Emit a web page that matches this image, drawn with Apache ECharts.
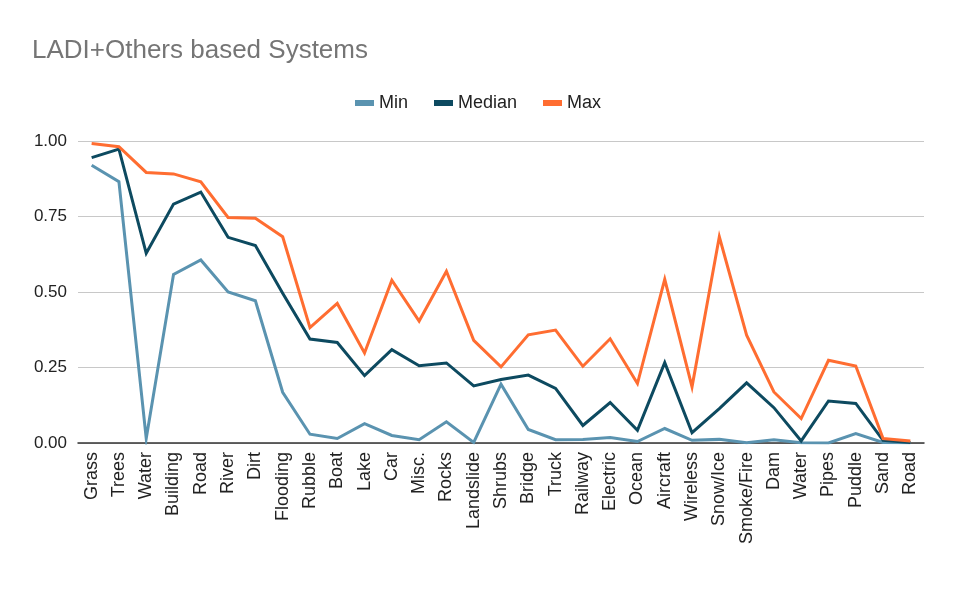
<!DOCTYPE html>
<html>
<head>
    <meta charset="utf-8" />
    <script src="https://cdn.jsdelivr.net/npm/echarts@6/dist/echarts.min.js"></script>
    <title>LADI+Others based Systems</title>
    <style>
        html, body { margin: 0; padding: 0; background: #fff; }
    </style>
</head>
<body>
    <div id="main" style="width: 956px;height:591px;"></div>

    <script type="text/javascript">

        var categories = ['Grass', 'Trees', 'Water', 'Building', 'Road', 'River', 'Dirt', 'Flooding', 'Rubble', 'Boat',
            'Lake', 'Car', 'Misc.', 'Rocks', 'Landslide', 'Shrubs', 'Bridge', 'Truck', 'Railway', 'Electric',
            'Ocean', 'Aircraft', 'Wireless', 'Snow/Ice', 'Smoke/Fire', 'Dam', 'Water', 'Pipes', 'Puddle', 'Sand', 'Road'];

        var minValues = [0.920, 0.865, 0.015, 0.558, 0.606, 0.500, 0.471, 0.168, 0.029, 0.015,
            0.064, 0.025, 0.011, 0.070, 0.002, 0.195, 0.045, 0.011, 0.012, 0.018,
            0.005, 0.048, 0.009, 0.012, 0.001, 0.011, 0.001, 0.000, 0.031, 0.002, 0.001];

        var medianValues = [0.945, 0.973, 0.628, 0.791, 0.831, 0.681, 0.654, 0.496, 0.344, 0.333,
            0.223, 0.309, 0.256, 0.265, 0.189, 0.210, 0.225, 0.181, 0.058, 0.134,
            0.042, 0.266, 0.034, 0.114, 0.199, 0.117, 0.007, 0.139, 0.131, 0.009, 0.002];

        var maxValues = [0.992, 0.981, 0.896, 0.891, 0.865, 0.747, 0.744, 0.683, 0.382, 0.462,
            0.298, 0.539, 0.404, 0.569, 0.340, 0.252, 0.358, 0.374, 0.254, 0.345,
            0.197, 0.542, 0.186, 0.683, 0.357, 0.169, 0.081, 0.274, 0.255, 0.015, 0.007];

        var yTicks = [0, 0.25, 0.5, 0.75, 1];

        var font = 'Arial, "Liberation Sans", sans-serif';

        var myChart = echarts.init(document.getElementById('main'));

        function lineSeries(name, data, color) {
            return {
                name: name,
                type: 'line',
                data: data,
                symbol: 'none',
                smooth: false,
                color: color,
                lineStyle: { width: 3, color: color, join: 'miter', miterLimit: 12 },
                emphasis: { disabled: true }
            };
        }

        myChart.setOption({
            animation: false,
            title: {
                text: 'LADI+Others based Systems',
                left: 27,
                top: 33,
                textStyle: {
                    fontFamily: font,
                    fontSize: 26,
                    fontWeight: 'normal',
                    color: '#757575'
                }
            },
            legend: {
                top: 89,
                left: 'center',
                itemWidth: 19,
                itemHeight: 6,
                itemGap: 26,
                icon: 'rect',
                textStyle: {
                    fontFamily: font,
                    fontSize: 18,
                    color: '#222'
                },
                data: ['Min', 'Median', 'Max']
            },
            grid: {
                left: 78,
                right: 32,
                top: 141,
                bottom: 148,
                containLabel: false
            },
            xAxis: {
                type: 'category',
                data: categories,
                boundaryGap: true,
                axisLine: { lineStyle: { color: '#333', width: 1.5 } },
                axisTick: { show: false },
                axisLabel: {
                    interval: 0,
                    rotate: 90,
                    margin: 9,
                    fontFamily: font,
                    fontSize: 18,
                    color: '#222'
                }
            },
            yAxis: {
                type: 'value',
                min: yTicks[0],
                max: yTicks[yTicks.length - 1],
                interval: 0.25,
                axisLine: { show: false },
                axisTick: { show: false },
                splitLine: { lineStyle: { color: '#c8c8c8', width: 1 } },
                axisLabel: {
                    margin: 11,
                    fontFamily: font,
                    fontSize: 17,
                    color: '#222',
                    formatter: function (v) { return v.toFixed(2); }
                }
            },
            series: [
                lineSeries('Min', minValues, '#5A93B0'),
                lineSeries('Median', medianValues, '#0D4A60'),
                lineSeries('Max', maxValues, '#FF6D31')
            ]
        });

    </script>
</body>
</html>
